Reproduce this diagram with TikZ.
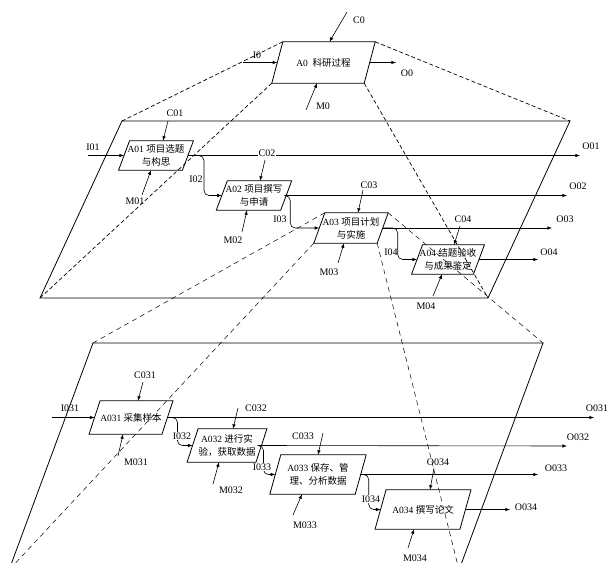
\documentclass[tikz,border=0pt]{standalone}
\usepackage{fontspec}
\setmainfont{Liberation Serif}
\newfontfamily\cjk{Noto Sans CJK SC}

\begin{document}
\begin{tikzpicture}[>=latex, x=1pt, y=-1pt,
  lab/.style={font=\fontsize{10}{12}\selectfont, inner sep=1pt},
  boxtext/.style={font=\fontsize{9.5}{13}\selectfont, align=center, inner sep=0pt},
  boxline/.style={line width=0.8pt},
  frame/.style={line width=0.8pt},
  flow/.style={->, line width=0.6pt},
  zoomline/.style={dash pattern=on 4pt off 2.5pt, line width=0.7pt},
  zoomlight/.style={dash pattern=on 5pt off 4pt, line width=0.5pt}]
  \useasboundingbox (0,0) rectangle (609,562);
  \clip (0,0) rectangle (609,562);

  \node[boxtext, minimum width=92pt, minimum height=41pt] (a0) at (323.5,62.5) {A0\ \ {\cjk 科研过程}};
  \node[boxtext, minimum width=63.5pt, minimum height=29pt] (a01) at (156,155.5) {A01 {\cjk 项目选题}\\{\cjk 与构思}};
  \node[boxtext, minimum width=64pt, minimum height=29pt] (a02) at (254,195.5) {A02 {\cjk 项目撰写}\\{\cjk 与申请}};
  \node[boxtext, minimum width=63pt, minimum height=30pt] (a03) at (351,228) {A03 {\cjk 项目计划}\\{\cjk 与实施}};
  \node[boxtext, minimum width=61.5pt, minimum height=29pt] (a04) at (448,259.5) {A04 {\cjk 结题验收}\\{\cjk 与成果鉴定}};
  \node[boxtext, minimum width=72.5pt, minimum height=33pt] (a031) at (131,417.5) {A031 {\cjk 采集样本}};
  \node[boxtext, minimum width=68.5pt, minimum height=33pt] (a032) at (227,445.5) {A032 {\cjk 进行实}\\{\cjk 验，获取数据}};
  \node[boxtext, minimum width=85pt, minimum height=39pt] (a033) at (318,474.5) {A033 {\cjk 保存、管}\\{\cjk 理、分析数据}};
  \node[boxtext, minimum width=84.5pt, minimum height=39pt] (a034) at (423,509.5) {A034 {\cjk 撰写论文}};

  \foreach \n in {a0,a01,a02,a03,a04,a031,a032,a033,a034}{
    \coordinate (\n-tl) at ([xshift=5.5pt]\n.north west);
    \coordinate (\n-tr) at ([xshift=5.5pt]\n.north east);
    \coordinate (\n-br) at ([xshift=-5.5pt]\n.south east);
    \coordinate (\n-bl) at ([xshift=-5.5pt]\n.south west);
    \draw[boxline] (\n-tl) -- (\n-tr) -- (\n-br) -- (\n-bl) -- cycle;
  }

  \coordinate (f1tl) at (122,121); \coordinate (f1tr) at (570,121);
  \coordinate (f1br) at (488,298); \coordinate (f1bl) at (40,298);
  \draw[frame] (f1tl) -- (f1tr) -- (f1br) -- (f1bl) -- cycle;
  \coordinate (f2tl) at (93,343); \coordinate (f2tr) at (543,343);
  \coordinate (f2br) at (459,570); \coordinate (f2bl) at (9,570);
  \draw[frame] (f2tl) -- (f2tr) -- (f2br) -- (f2bl) -- cycle;
  \foreach \c in {tl,tr,br,bl}{
    \draw[zoomline] (a0-\c) -- (f1\c);
    \draw[zoomlight] (a03-\c) -- (f2\c);
  }

  \coordinate (c0) at (347,12); \coordinate (i0) at (243,62.5);
  \coordinate (o0) at (396,62.5); \coordinate (m0) at (306,110);
  \draw[flow] (c0) -- ([xshift=6pt]a0.north);
  \draw[flow] (i0) -- (a0.west);
  \draw[flow] (a0.east) -- (o0);
  \draw[flow] (m0) -- ([xshift=-6.5pt]a0.south);

  \coordinate (c01) at (168,121); \coordinate (i01) at (88,155.5);
  \coordinate (m01) at (142,195); \coordinate (o01) at (580,155.5);
  \draw[flow] (c01) -- ([xshift=7pt]a01.north);
  \draw[flow] (i01) -- (a01.west);
  \draw[flow] (m01) -- ([xshift=-5pt]a01.south);
  \draw[flow] (a01.east) -- (o01);
  \draw[flow, rounded corners=5pt] (a01.east) -- ++(16,0) |- (a02.west);

  \coordinate (c02) at (265,160); \coordinate (m02) at (242,232);
  \coordinate (o02) at (567,195.5);
  \draw[flow] (c02) -- ([xshift=6pt]a02.north);
  \draw[flow] (m02) -- ([xshift=-7pt]a02.south);
  \draw[flow] (a02.east) -- (o02);
  \draw[flow, rounded corners=5pt] (a02.east) -- ++(4,0) |- (a03.west);

  \coordinate (c03) at (363,190); \coordinate (m03) at (338,263);
  \coordinate (o03) at (552,228);
  \draw[flow] (c03) -- ([xshift=7pt]a03.north);
  \draw[flow] (m03) -- ([xshift=-7pt]a03.south);
  \draw[flow] (a03.east) -- (o03);
  \draw[flow, rounded corners=5pt] (a03.east) -- ++(15,0) |- (a04.west);

  \coordinate (c04) at (460,226); \coordinate (m04) at (433,296);
  \coordinate (o04) at (538,259.5);
  \draw[flow] (c04) -- ([xshift=6pt]a04.north);
  \draw[flow] (m04) -- ([xshift=-6pt]a04.south);
  \draw[flow] (a04.east) -- (o04);

  \coordinate (c031) at (143,382); \coordinate (i031) at (52,417.5);
  \coordinate (m031) at (118,456); \coordinate (o031) at (594,417.5);
  \draw[flow] (c031) -- ([xshift=7pt]a031.north);
  \draw[flow] (i031) -- (a031.west);
  \draw[flow] (m031) -- ([xshift=-8pt]a031.south);
  \draw[flow] (a031.east) -- (o031);
  \draw[flow, rounded corners=5pt] (a031.east) -- ++(10,0) |- (a032.west);

  \coordinate (c032) at (238,408); \coordinate (m032) at (213,484);
  \coordinate (o032) at (567,446);
  \draw[flow] (c032) -- ([xshift=6pt]a032.north);
  \draw[flow] (m032) -- ([xshift=-8pt]a032.south);
  \draw[flow] (a032.east) -- (o032);
  \draw[flow, rounded corners=5pt] (a032.east) -- ++(2,0) |- (a033.west);

  \coordinate (c033) at (323,433); \coordinate (m033) at (293,515);
  \coordinate (o033) at (538,474.5);
  \draw[flow] (c033) -- (a033.north);
  \draw[flow] (m033) -- ([xshift=-16pt]a033.south);
  \draw[flow] (a033.east) -- (o033);
  \draw[flow, rounded corners=5pt] (a033.east) -- ++(8,0) |- (a034.west);

  \coordinate (c034) at (434,468); \coordinate (m034) at (408,548);
  \coordinate (o034) at (510,509.5);
  \draw[flow] (c034) -- ([xshift=7pt]a034.north);
  \draw[flow] (m034) -- ([xshift=-9pt]a034.south);
  \draw[flow] (a034.east) -- (o034);

  \node[lab] (lc0) at (359,20) {C0};
  \node[lab] (li0) at (257,55) {I0};
  \node[lab] (lo0) at (407,73) {O0};
  \node[lab] (lm0) at (323,106) {M0};
  \node[lab] (lc01) at (175,113) {C01};
  \node[lab] (li01) at (93,147) {I01};
  \node[lab] (lm01) at (135,201) {M01};
  \node[lab] (lo01) at (591,146) {O01};
  \node[lab] (li02) at (196,179) {I02};
  \node[lab, fill=white] (lc02) at (267,153) {C02};
  \node[lab] (lm02) at (233,240) {M02};
  \node[lab] (lo02) at (578,186) {O02};
  \node[lab] (li03) at (280,219) {I03};
  \node[lab] (lc03) at (369,185) {C03};
  \node[lab] (lm03) at (329,272) {M03};
  \node[lab] (lo03) at (565,219) {O03};
  \node[lab] (li04) at (391,252) {I04};
  \node[lab] (lc04) at (463,219) {C04};
  \node[lab] (lm04) at (426,306) {M04};
  \node[lab] (lo04) at (549,252) {O04};
  \node[lab] (lc031) at (145,375) {C031};
  \node[lab] (li031) at (70,408) {I031};
  \node[lab] (lm031) at (136,462) {M031};
  \node[lab] (lo031) at (597,408) {O031};
  \node[lab, fill=white] (li032) at (182,436) {I032};
  \node[lab] (lc032) at (256,408) {C032};
  \node[lab] (lm032) at (231,490) {M032};
  \node[lab] (lo032) at (578,437) {O032};
  \node[lab, fill=white] (li033) at (262,467) {I033};
  \node[lab] (lc033) at (303,436) {C033};
  \node[lab] (lm033) at (305,525) {M033};
  \node[lab] (lo033) at (556,468) {O033};
  \node[lab, fill=white] (li034) at (371,499) {I034};
  \node[lab] (lc034) at (438,462) {O034};
  \node[lab] (lm034) at (415,558) {M034};
  \node[lab] (lo034) at (526,507) {O034};
\end{tikzpicture}
\end{document}
